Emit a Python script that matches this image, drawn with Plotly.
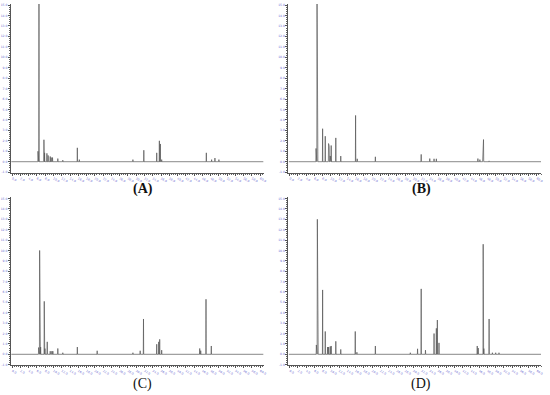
import plotly.graph_objects as go

# Peak retention times (min) and heights (arbitrary units)
a_times = [3.6, 6.24, 6.48, 7.68, 7.84, 8.4, 8.7, 9.2, 9.44, 9.76, 11.04, 12.24, 15.76, 16.24,
           29.2, 31.84, 34.96, 35.6, 35.84, 36.16, 46.96, 48.24, 49.04, 50.0]
a_heights = [0.05, 1.0, 16.5, 2.1, 0.85, 0.8, 0.6, 0.5, 0.4, 0.4, 0.3, 0.15, 1.33, 0.2,
             0.2, 1.1, 0.85, 2.0, 1.7, 0.2, 0.85, 0.2, 0.35, 0.2]

b_times = [2.8, 6.4, 6.64, 6.8, 8.0, 8.64, 9.44, 9.6, 9.84, 10.08, 11.2, 12.4, 16.0, 16.4,
           20.8, 31.92, 34.0, 35.04, 35.6, 45.68, 46.16, 46.88, 47.04, 48.4]
b_heights = [0.05, 1.27, 16.5, 0.85, 3.16, 2.44, 1.74, 1.49, 0.55, 1.55, 2.28, 0.54, 4.43, 0.28,
             0.47, 0.7, 0.3, 0.28, 0.28, 0.3, 0.2, 0.85, 2.12, 0.08]

c_times = [6.4, 6.64, 6.88, 7.76, 7.92, 8.48, 9.2, 9.6, 9.84, 11.04, 12.24, 15.76, 20.56,
           29.2, 30.96, 31.76, 34.96, 35.44, 35.68, 36.16, 45.36, 45.6, 46.88, 48.16]
c_heights = [0.65, 10.0, 0.7, 5.1, 0.55, 1.2, 0.3, 0.3, 0.3, 0.56, 0.15, 0.7, 0.34,
             0.15, 0.34, 3.4, 0.97, 1.2, 1.44, 0.4, 0.56, 0.35, 5.3, 0.8]

d_times = [6.48, 6.72, 6.88, 8.0, 8.64, 9.2, 9.44, 9.84, 10.08, 11.2, 12.4, 15.92, 16.32,
           20.8, 29.28, 31.04, 31.92, 32.96, 35.04, 35.6, 35.84, 36.24, 45.52, 45.76,
           46.96, 47.12, 48.4, 49.2, 50.0, 50.8]
d_heights = [0.9, 13.0, 0.95, 6.2, 2.2, 0.7, 0.7, 0.75, 0.8, 1.25, 0.47, 2.2, 0.2,
             0.8, 0.15, 0.53, 6.3, 0.4, 2.0, 2.5, 3.3, 1.1, 0.8, 0.6,
             10.6, 0.55, 3.4, 0.15, 0.15, 0.15]

panel_labels = ["(A)", "(B)", "(C)", "(D)"]
x_tick_values = list(range(0, 62, 2))
y_tick_values = list(range(-1, 16))

panels = [(a_times, a_heights), (b_times, b_heights), (c_times, c_heights), (d_times, d_heights)]

# layout (pixel-derived domains)
W, H = 550, 395
x_domains = [[11 / W, 265 / W], [290 / W, 544 / W], [11 / W, 265 / W], [290 / W, 544 / W]]
y_domains = [[1 - 173 / H, 1 - 3 / H], [1 - 173 / H, 1 - 3 / H],
             [1 - 367 / H, 1 - 198 / H], [1 - 367 / H, 1 - 198 / H]]
label_pos = [(144, 189), (424, 189), (143, 386), (423.5, 386)]
label_bold = [True, True, False, False]
x_end = [60.8, 61.0, 60.8, 61.0]


def trace_xy(times, heights, end):
    pairs = sorted(zip(times, heights))
    w = 0.05
    xs, ys = [-0.2], [0.0]
    for t, h in pairs:
        xs += [t - w, t, t + w]
        ys += [0.0, h, 0.0]
    xs.append(end)
    ys.append(0.0)
    return xs, ys


fig = go.Figure()
tick_font = dict(family="DejaVu Sans", size=3, color="#6c6cd0")

for i, (times, heights) in enumerate(panels):
    n = "" if i == 0 else str(i + 1)
    xs, ys = trace_xy(times, heights, x_end[i])
    fig.add_trace(go.Scatter(x=xs, y=ys, mode="lines",
                             line=dict(color="#555555", width=0.7),
                             xaxis="x" + n, yaxis="y" + n,
                             hoverinfo="skip", showlegend=False))
    fig.layout["xaxis" + n] = dict(
        domain=x_domains[i], range=[-0.3, x_end[i]], anchor="y" + n,
        showgrid=False, zeroline=False, showline=True, linecolor="#555", linewidth=1,
        tickmode="array", tickvals=x_tick_values,
        ticktext=[f"{v:.1f}" for v in x_tick_values],
        ticks="outside", ticklen=2, tickcolor="#555", tickwidth=0.6,
        minor=dict(dtick=0.5, ticks="outside", ticklen=1, tickcolor="#666", tickwidth=0.5),
        tickfont=tick_font,
    )
    fig.layout["yaxis" + n] = dict(
        domain=y_domains[i], range=[-1.05, 15.1], anchor="x" + n,
        showgrid=False, zeroline=False, showline=True, linecolor="#555", linewidth=1,
        tickmode="array", tickvals=y_tick_values,
        ticktext=[f"{v:.1f}" for v in y_tick_values],
        ticks="outside", ticklen=2, tickcolor="#555", tickwidth=0.6,
        minor=dict(dtick=0.2, ticks="outside", ticklen=1, tickcolor="#666", tickwidth=0.5),
        tickfont=tick_font,
    )
    lx, ly = label_pos[i]
    txt = f"<b>{panel_labels[i]}</b>" if label_bold[i] else panel_labels[i]
    fig.add_annotation(x=lx / W, y=1 - ly / H, xref="paper", yref="paper",
                       text=txt, showarrow=False,
                       font=dict(family="Liberation Serif", size=14, color="#111"),
                       xanchor="center", yanchor="middle")

fig.update_layout(width=W, height=H, margin=dict(l=0, r=0, t=0, b=0),
                  paper_bgcolor="white", plot_bgcolor="white")

fig.write_html("out.html", config={"displayModeBar": False},
               post_script="document.body.style.margin='0';document.body.style.overflow='hidden';")
